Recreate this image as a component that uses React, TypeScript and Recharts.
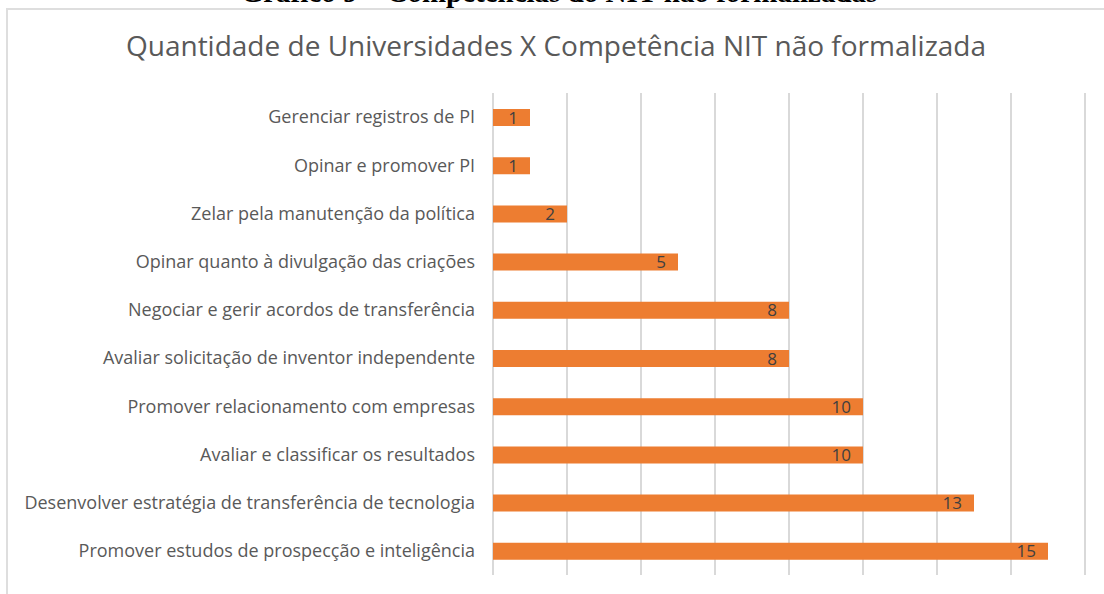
import { BarChart, Bar, XAxis, YAxis, CartesianGrid, LabelList } from 'recharts'

const categories = [
    'Gerenciar registros de PI',
    'Opinar e promover PI',
    'Zelar pela manutenção da política',
    'Opinar quanto à divulgação das criações',
    'Negociar e gerir acordos de transferência',
    'Avaliar solicitação de inventor independente',
    'Promover relacionamento com empresas',
    'Avaliar e classificar os resultados',
    'Desenvolver estratégia de transferência de tecnologia',
    'Promover estudos de prospecção e inteligência',
]
const values = [1, 1, 2, 5, 8, 8, 10, 10, 13, 15]
const xTicks = [0, 2, 4, 6, 8, 10, 12, 14, 16]

const caption = 'Gráfico 9 – Competências do NIT não formalizadas'
const title = 'Quantidade de Universidades X Competência NIT não formalizada'

const data = categories.map((name, i) => ({ name, value: values[i] }))

const App = () => {
    return (
        <div style={{ position: 'absolute', left: 0, top: 0, width: 1104, height: 594, overflow: 'hidden', background: '#fff' }}>
            <div
                style={{
                    position: 'absolute', left: 0, top: -24, width: 1118, textAlign: 'center',
                    fontFamily: '"Liberation Serif", serif', fontWeight: 'bold', fontSize: 29, color: '#000',
                }}
            >
                {caption}
            </div>
            <div style={{ position: 'absolute', left: 6, top: 8, width: 1110, height: 600, border: '2px solid #dedede' }} />
            <div
                style={{
                    position: 'absolute', left: 0, top: 26, width: 1112, textAlign: 'center',
                    fontFamily: '"Open Sans", sans-serif', fontSize: 28, color: '#595959',
                }}
            >
                {title}
            </div>
            <div style={{ position: 'absolute', left: 0, top: 0 }}>
                <BarChart
                    width={1104}
                    height={594}
                    data={data}
                    layout="vertical"
                    margin={{ top: 93, right: 19, bottom: 19, left: 0 }}
                    barSize={17}
                >
                    <CartesianGrid horizontal={false} stroke="#d9d9d9" strokeWidth={2} />
                    <XAxis type="number" domain={[0, 16]} ticks={xTicks} hide />
                    <YAxis
                        type="category"
                        dataKey="name"
                        width={493}
                        axisLine={false}
                        tickLine={false}
                        tickSize={0}
                        tickMargin={18}
                        tick={{ fill: '#595959', fontSize: 18, fontFamily: '"Open Sans", sans-serif' }}
                        interval={0}
                    />
                    <Bar dataKey="value" fill="#ed7d31" isAnimationActive={false}>
                        <LabelList
                            dataKey="value"
                            position="insideRight"
                            offset={12}
                            fill="#404040"
                            fontSize={17}
                            fontFamily='"Open Sans", sans-serif'
                        />
                    </Bar>
                </BarChart>
            </div>
        </div>
    )
}

export default App
